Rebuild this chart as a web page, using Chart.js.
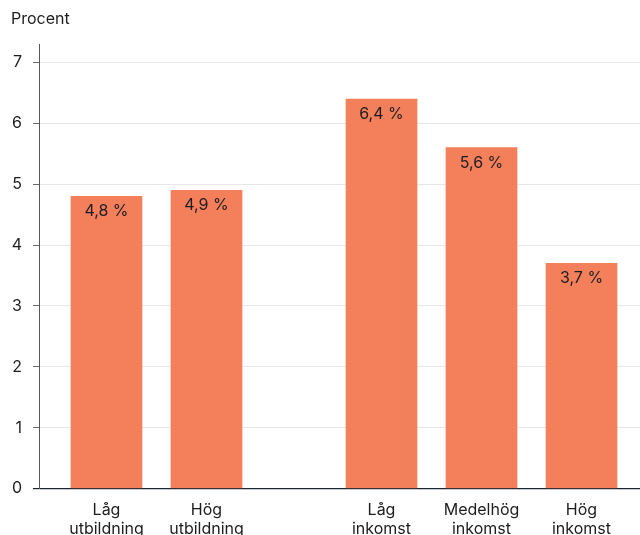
<!DOCTYPE html>
<html lang="sv">
<head>
<meta charset="utf-8">
<title>Procent</title>
<script src="https://cdn.jsdelivr.net/npm/chart.js@4/dist/chart.umd.min.js"></script>
<style>
  html, body { margin: 0; padding: 0; background: #ffffff; overflow: hidden; }
  #wrap { width: 640px; height: 535px; overflow: hidden; }
  canvas { display: block; }
</style>
</head>
<body>
<div id="wrap"><canvas id="chart" width="640" height="551"></canvas></div>
<script>
// Andel i procent per grupp
const categories = [
  ['Låg', 'utbildning'],
  ['Hög', 'utbildning'],
  ['Låg', 'inkomst'],
  ['Medelhög', 'inkomst'],
  ['Hög', 'inkomst']
];
const groupOf = [0, 0, 1, 1, 1];          // 0 = utbildning, 1 = inkomst
const values = [4.8, 4.9, 6.4, 5.6, 3.7];
const yTicks = [0, 1, 2, 3, 4, 5, 6, 7];

// Bars sit on a linear axis so the two groups can be separated by a gap
const GROUP_GAP = 0.75;
const xPos = categories.map((_, i) => i + groupOf[i] * GROUP_GAP);

const FONT = 'Inter, "Liberation Sans", Arial, sans-serif';
const BAR = '#F47F5B';
const INK = '#1d1d1f';
const AXIS_DARK = '#1f2433';

const fmt = v => v.toFixed(1).replace('.', ',') + ' %';

// Value labels printed just inside the top of each bar
const valueLabels = {
  id: 'valueLabels',
  afterDatasetsDraw(chart) {
    const ctx = chart.ctx;
    const meta = chart.getDatasetMeta(0);
    ctx.save();
    ctx.font = '16px ' + FONT;
    ctx.fillStyle = INK;
    ctx.textAlign = 'center';
    ctx.textBaseline = 'middle';
    meta.data.forEach((bar, i) => {
      ctx.fillText(fmt(values[i]), bar.x, bar.y + 15);
    });
    ctx.restore();
  }
};

new Chart(document.getElementById('chart'), {
  type: 'bar',
  data: {
    datasets: [{
      data: values.map((v, i) => ({ x: xPos[i], y: v })),
      backgroundColor: BAR,
      borderWidth: 0,
      barThickness: 71
    }]
  },
  options: {
    responsive: false,
    animation: false,
    devicePixelRatio: 1,
    layout: { padding: { left: 11, top: 0, right: 0, bottom: 0 } },
    plugins: {
      legend: { display: false },
      tooltip: { enabled: false },
      title: {
        display: true,
        text: 'Procent',
        align: 'start',
        color: INK,
        font: { family: FONT, size: 16, weight: 'normal', lineHeight: 1.2 },
        padding: { top: 10, bottom: 15 }
      }
    },
    scales: {
      x: {
        type: 'linear',
        offset: false,
        min: -0.675,
        max: 5.335,
        afterBuildTicks: axis => { axis.ticks = xPos.map(v => ({ value: v })); },
        // labels stay inside the plot, so no extra side padding is needed
        afterFit: axis => { axis.paddingLeft = 0; axis.paddingRight = 0; },
        grid: { display: false, drawTicks: false, offset: false },
        border: { display: true, color: AXIS_DARK, width: 1 },
        ticks: {
          autoSkip: false,
          maxRotation: 0,
          padding: 12,
          color: INK,
          font: { family: FONT, size: 16, lineHeight: 1.2 },
          callback: (value, index) => categories[index]
        }
      },
      y: {
        min: 0,
        max: 7.3,
        afterBuildTicks: axis => { axis.ticks = yTicks.map(v => ({ value: v })); },
        afterFit: axis => { axis.width = 28; },
        grid: {
          color: c => (c.tick && c.tick.value === 0) ? AXIS_DARK : '#e6e6e6',
          tickColor: c => (c.tick && c.tick.value === 0) ? AXIS_DARK : '#6b6b6b',
          lineWidth: c => (c.tick && c.tick.value === 0) ? 1.2 : 1,
          tickLength: 6,
          drawTicks: true
        },
        border: { display: true, color: '#55565c', width: 1 },
        ticks: {
          padding: 11,
          color: INK,
          font: { family: FONT, size: 16 },
          callback: v => String(v)
        }
      }
    }
  },
  plugins: [valueLabels]
});
</script>
</body>
</html>
